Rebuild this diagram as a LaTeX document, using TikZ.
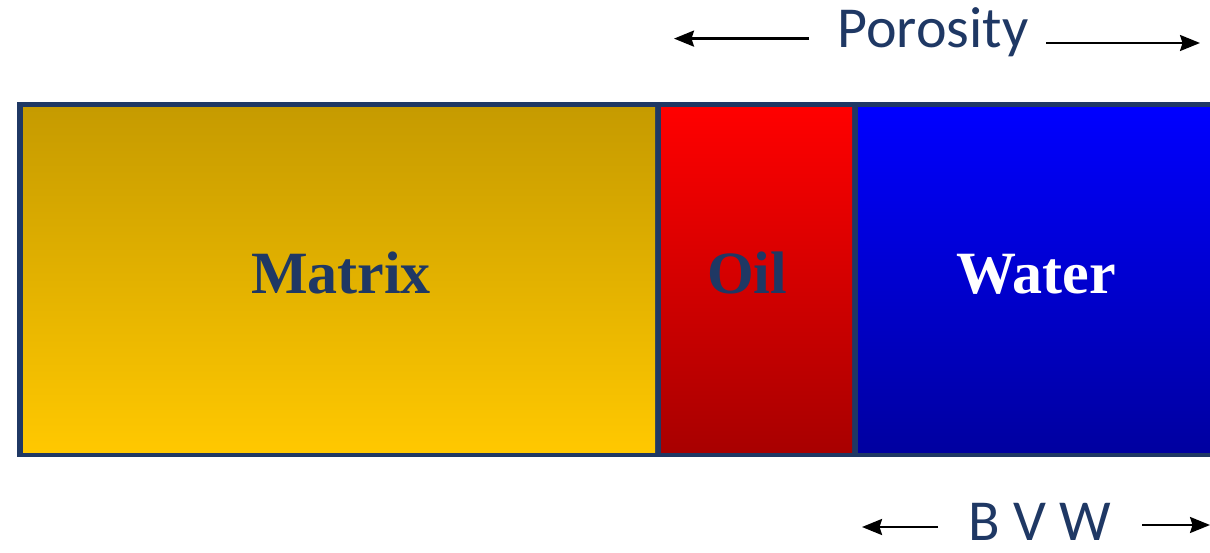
\documentclass[tikz,border=0pt]{standalone}
\usepackage{fontspec}
\setmainfont{Liberation Serif}
\newfontfamily\labelfont{Carlito}
\usetikzlibrary{arrows.meta}
\definecolor{navy}{RGB}{31,56,100}
\definecolor{goldtop}{RGB}{198,155,0}
\definecolor{goldbot}{RGB}{255,200,0}
\definecolor{redtop}{RGB}{255,0,0}
\definecolor{redbot}{RGB}{168,0,0}
\definecolor{bluetop}{RGB}{0,0,255}
\definecolor{bluebot}{RGB}{0,0,160}
\tikzset{
  phase/.style={rectangle, draw=none, inner sep=0pt, minimum height=344pt},
  phasetext/.style={anchor=base, inner sep=0pt, font=\bfseries\fontsize{60}{60}\selectfont},
  sidetext/.style={anchor=base, inner sep=0pt, text depth=0pt, text=navy, font=\labelfont\fontsize{58}{58}\selectfont},
  arr/.style={line width=2.4pt, -{Stealth[length=20pt,width=16pt,inset=2.5pt]}}
}
\begin{document}
\begin{tikzpicture}[x=1pt,y=-1pt]
\useasboundingbox (0,0) rectangle (1210,553);
\clip (0,0) rectangle (1210,553);
% frame of the rock column
\fill[navy] (17,102) rectangle (1230,457);
% the three phases
\node[phase, minimum width=632pt, top color=goldtop, bottom color=goldbot] (matrix) at (339,280) {};
\node[phase, minimum width=191pt, top color=redtop, bottom color=redbot] (oil) at (756.5,280) {};
\node[phase, minimum width=366pt, top color=bluetop, bottom color=bluebot] (water) at (1041,280) {};
% phase names
\node[phasetext, text=navy] (matrixlabel) at (341,294) {Matrix};
\node[phasetext, text=navy] (oillabel) at (747,294) {Oil};
\node[phasetext, text=white] (waterlabel) at (1036,294) {Water};
% porosity span
\node[sidetext] (porosity) at (933,48) {Porosity};
\coordinate (porLtail) at (809,38.6);
\coordinate (porLtip) at (674,38.6);
\coordinate (porRtail) at (1046,43);
\coordinate (porRtip) at (1200,43);
\draw[arr] (porLtail) -- (porLtip);
\draw[arr] (porRtail) -- (porRtip);
% bulk volume water span
\node[sidetext] (bvw) at (1040,540) {B V W};
\coordinate (bvwLtail) at (938,527);
\coordinate (bvwLtip) at (862,527);
\coordinate (bvwRtail) at (1142,525);
\coordinate (bvwRtip) at (1210,525);
\draw[arr] (bvwLtail) -- (bvwLtip);
\draw[arr] (bvwRtail) -- (bvwRtip);
\end{tikzpicture}
\end{document}
